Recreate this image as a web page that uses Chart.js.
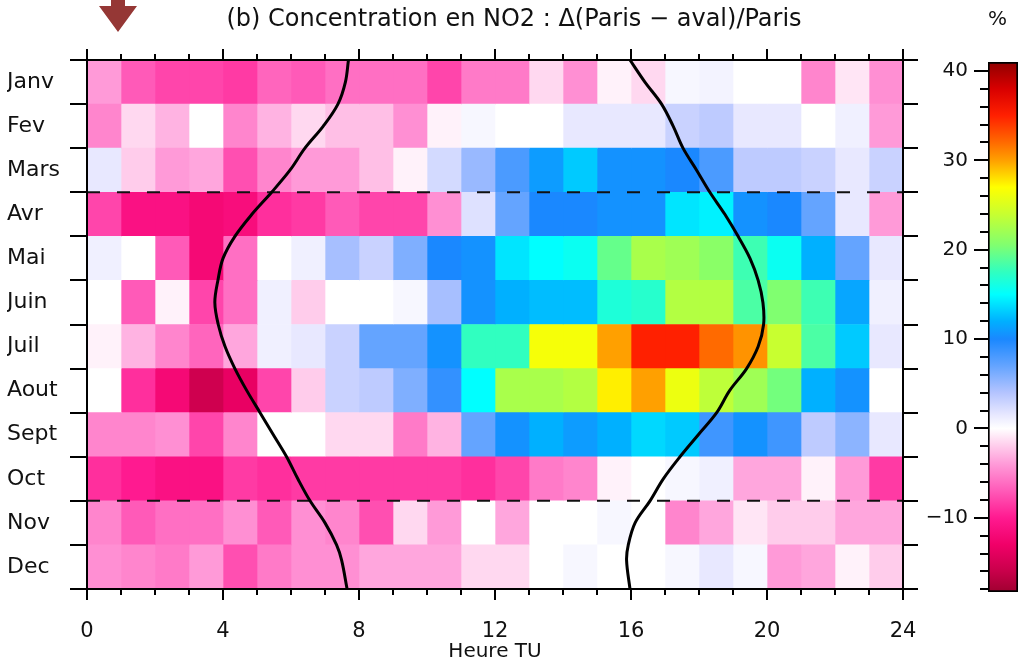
<!DOCTYPE html>
<html>
<head>
<meta charset="utf-8">
<script src="https://cdn.jsdelivr.net/npm/chart.js@4.4.1/dist/chart.umd.min.js"></script>
<style>
  body { margin: 0; background: #fff; }
  #wrap { position: relative; width: 1021px; height: 664px; }
  #heat { position: absolute; left: 0; top: 0; }
  #bar { position: absolute; left: 900px; top: 0; }
</style>
</head>
<body>
<div id="wrap">
  <canvas id="heat" width="1021" height="664"></canvas>
  <canvas id="bar" width="121" height="664"></canvas>
</div>
<script>
// months (rows) and hours UT (columns)
const months = ["Janv", "Fev", "Mars", "Avr", "Mai", "Juin", "Juil", "Aout", "Sept", "Oct", "Nov", "Dec"];
const hours = [0, 1, 2, 3, 4, 5, 6, 7, 8, 9, 10, 11, 12, 13, 14, 15, 16, 17, 18, 19, 20, 21, 22, 23];

// NO2 difference (Paris - aval)/Paris in %, one value per hour
const janv = [-4, -7, -8, -8, -8.5, -6.5, -7, -6, -6, -6, -8, -5.5, -5.5, -1.5, -4.5, -0.5, -1.5, 0.5, 0.8, 0, 0, -5, -1, -4.5];
const fev  = [-5, -1.5, -3, 0, -5, -3, -1.5, -2.5, -2.5, -4.5, -0.5, 0.5, 0, 0, 1.5, 1.5, 1.5, 3, 3.5, 1.5, 1.5, 0, 1, -4];
const mars = [1.5, -2, -4, -3.5, -7.5, -5, -4, -4, -2.5, -0.5, 2.5, 5, 8, 11, 13, 10.5, 10.5, 10, 8, 3.5, 3.5, 3, 1.5, 3];
const avr  = [-8, -11, -11, -12, -11.5, -9, -8.5, -7, -8, -8, -4.5, 2, 7, 10, 10, 10.5, 10.5, 14, 14.5, 10.5, 10, 7, 1.5, -4];
const mai  = [1, 0, -7, -12, -6, 0, 1, 4.5, 3, 6, 10, 10.5, 14, 15, 15.5, 19.5, 22.5, 22, 21, 18, 15.5, 12, 7, 1.5];
const juin = [0, -7, -0.5, -8, -6, 1, -2, 0, 0, 0.5, 4.5, 10.5, 12, 12.5, 12.5, 16.5, 17, 23, 23, 18.5, 20.5, 18, 11.5, 1];
const juil = [-0.5, -3, -5, -6.5, -3.5, 1, 1.5, 3, 7, 7, 10.5, 17.5, 17.5, 26.5, 26.5, 30, 35, 35, 32, 30.5, 24, 18.5, 13, 1.5];
const aout = [0, -9, -12, -15.5, -13.5, -8, -2, 3, 3.5, 6, 9, 15, 22.5, 22.5, 23, 27.5, 30, 26, 23.5, 22, 20, 12, 10.5, 0];
const sept = [-5, -5, -4.5, -8, -5, 0, 0, -1.5, -1.5, -5.5, -3, 7, 10.5, 12, 11, 12, 13.5, 13, 8.5, 10.5, 8.5, 3.5, 5.5, 1.5];
const oct  = [-9, -10, -11, -11, -8.5, -9, -8.5, -8.5, -8.5, -8.5, -8.5, -9, -8, -5.5, -5, -0.5, 0, 0.5, 1, -3.5, -3.5, -0.5, -4, -8.5];
const nov  = [-5, -7, -6, -6, -4.5, -7, -4.5, -5, -7.5, -1.5, -4, 0, -3.5, 0, 0, 0.5, 0, -5, -3.5, -1, -2, -2, -3.5, -3.5];
const dec  = [-4.5, -5, -5.5, -4, -7.5, -5.5, -4.5, -4.5, -3.5, -3.5, -3.5, -1.5, -1.5, 0, 0.5, 0, 0, 0.5, 1.5, 0.5, -4, -3.5, -0.5, -2];
const rows = [janv, fev, mars, avr, mai, juin, juil, aout, sept, oct, nov, dec];

// sunrise / sunset (hour UT) along the year, position in months from 1 Jan
const sunPos  = [0, 0.5, 1, 1.5, 2, 2.5, 3, 3.5, 4, 4.5, 5, 5.5, 6, 6.5, 7, 7.5, 8, 8.5, 9, 9.5, 10, 10.5, 11, 11.35, 12];
const sunrise = [7.69, 7.6, 7.38, 6.95, 6.41, 5.97, 5.43, 4.85, 4.35, 4.0, 3.85, 3.76, 3.86, 4.06, 4.35, 4.7, 5.09, 5.48, 5.87, 6.2, 6.56, 7.0, 7.34, 7.49, 7.65];
const sunset  = [15.97, 16.41, 16.9, 17.24, 17.53, 17.93, 18.32, 18.76, 19.15, 19.5, 19.74, 19.88, 19.9, 19.74, 19.4, 18.9, 18.52, 17.98, 17.44, 16.95, 16.56, 16.12, 15.92, 15.87, 15.97];

// season separators (end of Mars, end of Oct)
const seasonBreaks = [3, 10];

// colour bar range and tick labels
const cbMin = -18.3, cbMax = 41;
const cbLabels = [-10, 0, 10, 20, 30, 40];

const cmapStops = [
  [-18.3, '#a00030'], [-16, '#c8004a'], [-13, '#f00068'], [-10, '#ff1a90'], [-7, '#ff5ab8'],
  [-4, '#ff9ad8'], [-1.5, '#ffd8f0'], [0, '#ffffff'], [1.5, '#e8e8ff'], [4, '#b4c4ff'],
  [7, '#64a4ff'], [10, '#1a88ff'], [12, '#00b0ff'], [15, '#00ffff'], [17.5, '#30ffc0'],
  [20.5, '#80ff70'], [24, '#c8ff30'], [27, '#ffff00'], [28.5, '#ffd000'], [30, '#ffa000'],
  [32, '#ff6a00'], [35, '#ff2000'], [38, '#d80000'], [41, '#900000']
];

function hexRgb(h) {
  return [1, 3, 5].map(i => parseInt(h.slice(i, i + 2), 16));
}

function colorFor(v) {
  if (v <= cmapStops[0][0]) return cmapStops[0][1];
  for (let i = 1; i < cmapStops.length; i++) {
    const [v1, c1] = cmapStops[i];
    if (v <= v1) {
      const [v0, c0] = cmapStops[i - 1];
      const t = (v - v0) / (v1 - v0);
      const a = hexRgb(c0), b = hexRgb(c1);
      const m = a.map((x, k) => Math.round(x + (b[k] - x) * t));
      return `rgb(${m[0]},${m[1]},${m[2]})`;
    }
  }
  return cmapStops[cmapStops.length - 1][1];
}

Chart.defaults.font.family = "'DejaVu Sans', sans-serif";
Chart.defaults.font.size = 20;
Chart.defaults.color = '#111';

// one floating bar per hour, stacked over every month row
const cellSets = hours.map((h, c) => ({
  type: 'bar',
  indexAxis: 'y',
  xAxisID: 'x',
  yAxisID: 'y',
  grouped: false,
  order: 2,
  data: rows.map(() => [h, h + 1]),
  backgroundColor: rows.map(r => colorFor(r[c])),
  borderWidth: 0,
  barPercentage: 1,
  categoryPercentage: 1
}));

const curve = (vals) => ({
  type: 'line',
  xAxisID: 'x',
  yAxisID: 'yl',
  order: 0,
  data: vals.map((v, i) => ({ x: v, y: sunPos[i] })),
  borderColor: '#000',
  borderWidth: 3,
  pointRadius: 0,
  tension: 0.35,
  fill: false
});

const breakSets = seasonBreaks.map(b => ({
  type: 'line',
  xAxisID: 'x',
  yAxisID: 'yl',
  order: 1,
  data: [{ x: hours[0], y: b }, { x: hours[hours.length - 1] + 1, y: b }],
  borderColor: '#111',
  borderWidth: 2,
  borderDash: [13, 17],
  pointRadius: 0,
  fill: false
}));

// axes frame with IDL-style tick marks
const frame = {
  id: 'frame',
  afterDraw(chart) {
    const { ctx, chartArea: a, scales: { x, y } } = chart;
    ctx.save();
    ctx.strokeStyle = '#000';
    ctx.lineWidth = 2;
    ctx.beginPath();
    ctx.moveTo(a.left - 17, a.top); ctx.lineTo(a.right + 15, a.top);
    ctx.moveTo(a.left - 17, a.bottom); ctx.lineTo(a.right + 15, a.bottom);
    ctx.moveTo(a.left, a.top); ctx.lineTo(a.left, a.bottom);
    ctx.moveTo(a.right, a.top); ctx.lineTo(a.right, a.bottom);
    for (let i = 1; i < months.length; i++) {
      const py = Math.round((y.getPixelForValue(i - 1) + y.getPixelForValue(i)) / 2);
      ctx.moveTo(a.left - 17, py); ctx.lineTo(a.left, py);
      ctx.moveTo(a.right, py); ctx.lineTo(a.right + 15, py);
    }
    for (let h = 0; h <= 24; h++) {
      const px = Math.round(x.getPixelForValue(h));
      const len = h % 4 ? 6 : 11;
      ctx.moveTo(px, a.top); ctx.lineTo(px, a.top - len);
      ctx.moveTo(px, a.bottom); ctx.lineTo(px, a.bottom + len);
    }
    ctx.stroke();

    // red marker arrow top left
    ctx.fillStyle = '#953735';
    ctx.beginPath();
    ctx.moveTo(111, 0); ctx.lineTo(125, 0); ctx.lineTo(125, 6);
    ctx.lineTo(137, 6); ctx.lineTo(118, 32); ctx.lineTo(99, 6);
    ctx.lineTo(111, 6);
    ctx.closePath();
    ctx.fill();
    ctx.restore();
  }
};

new Chart(document.getElementById('heat'), {
  type: 'bar',
  data: {
    labels: months,
    datasets: [curve(sunrise), curve(sunset), ...breakSets, ...cellSets]
  },
  options: {
    responsive: false,
    animation: false,
    layout: { padding: { left: 7 } },
    plugins: {
      legend: { display: false },
      tooltip: { enabled: false },
      title: {
        display: true,
        text: '(b) Concentration en NO2 : Δ(Paris − aval)/Paris',
        font: { size: 24, weight: 'normal' },
        color: '#111',
        padding: { top: 5.6, bottom: 25.6 }
      }
    },
    scales: {
      x: {
        type: 'linear',
        position: 'bottom',
        min: 0,
        max: 24,
        offset: false,
        grid: { display: false, drawTicks: false, offset: false },
        border: { display: false },
        ticks: { stepSize: 4, padding: 30, font: { size: 21 } },
        title: { display: true, text: 'Heure TU', padding: { top: 0, bottom: 0 } },
        afterFit: s => { s.height = 75; }
      },
      y: {
        type: 'category',
        labels: months,
        offset: true,
        grid: { display: false, drawTicks: false },
        border: { display: false },
        ticks: { crossAlign: 'far', padding: 0, font: { size: 22 } },
        afterFit: s => { s.width = 80; }
      },
      yl: {
        type: 'linear',
        axis: 'y',
        min: 0,
        max: 12,
        reverse: true,
        display: false
      },
      yr: {
        type: 'linear',
        axis: 'y',
        position: 'right',
        grid: { display: false, drawTicks: false },
        border: { display: false },
        ticks: { display: false },
        afterFit: s => { s.width = 118; }
      }
    }
  },
  plugins: [frame]
});

// colour bar ticks: labelled every 10, minor every 2
const cbTicks = {
  id: 'cbTicks',
  afterDraw(chart) {
    const { ctx, chartArea: a, scales: { y } } = chart;
    ctx.save();
    ctx.strokeStyle = '#000';
    ctx.lineWidth = 2;
    ctx.beginPath();
    for (let v = -18; v <= 40; v += 2) {
      const py = Math.round(y.getPixelForValue(v));
      const len = v % 10 ? 8 : 14;
      ctx.moveTo(a.left - len, py); ctx.lineTo(a.left, py);
    }
    ctx.stroke();
    ctx.restore();
  }
};

new Chart(document.getElementById('bar'), {
  type: 'bar',
  data: {
    labels: ['%'],
    datasets: [{
      data: [[cbMin, cbMax]],
      backgroundColor: (c) => {
        const { chart } = c;
        if (!chart.chartArea) return '#fff';
        const y = chart.scales.y;
        const g = chart.ctx.createLinearGradient(0, y.getPixelForValue(cbMin), 0, y.getPixelForValue(cbMax));
        cmapStops.forEach(([v, col]) => g.addColorStop((v - cbMin) / (cbMax - cbMin), col));
        return g;
      },
      borderColor: '#000',
      borderWidth: 2,
      borderSkipped: false,
      barPercentage: 1,
      categoryPercentage: 1
    }]
  },
  options: {
    responsive: false,
    animation: false,
    layout: { padding: { right: 3, bottom: 72 } },
    plugins: { legend: { display: false }, tooltip: { enabled: false } },
    scales: {
      x: {
        position: 'top',
        grid: { display: false, drawTicks: false },
        border: { display: false },
        ticks: { display: false },
        title: { display: true, text: '%', align: 'start', padding: { top: 8, bottom: 0 } },
        afterFit: s => { s.height = 62; }
      },
      y: {
        min: cbMin,
        max: cbMax,
        grid: { display: false, drawTicks: false },
        border: { display: false },
        ticks: {
          stepSize: 10,
          includeBounds: false,
          padding: 20,
          callback: v => cbLabels.includes(v) ? (v < 0 ? '−' + Math.abs(v) : String(v)) : ''
        },
        afterFit: s => { s.width = 88; }
      }
    }
  },
  plugins: [cbTicks]
});
</script>
</body>
</html>
